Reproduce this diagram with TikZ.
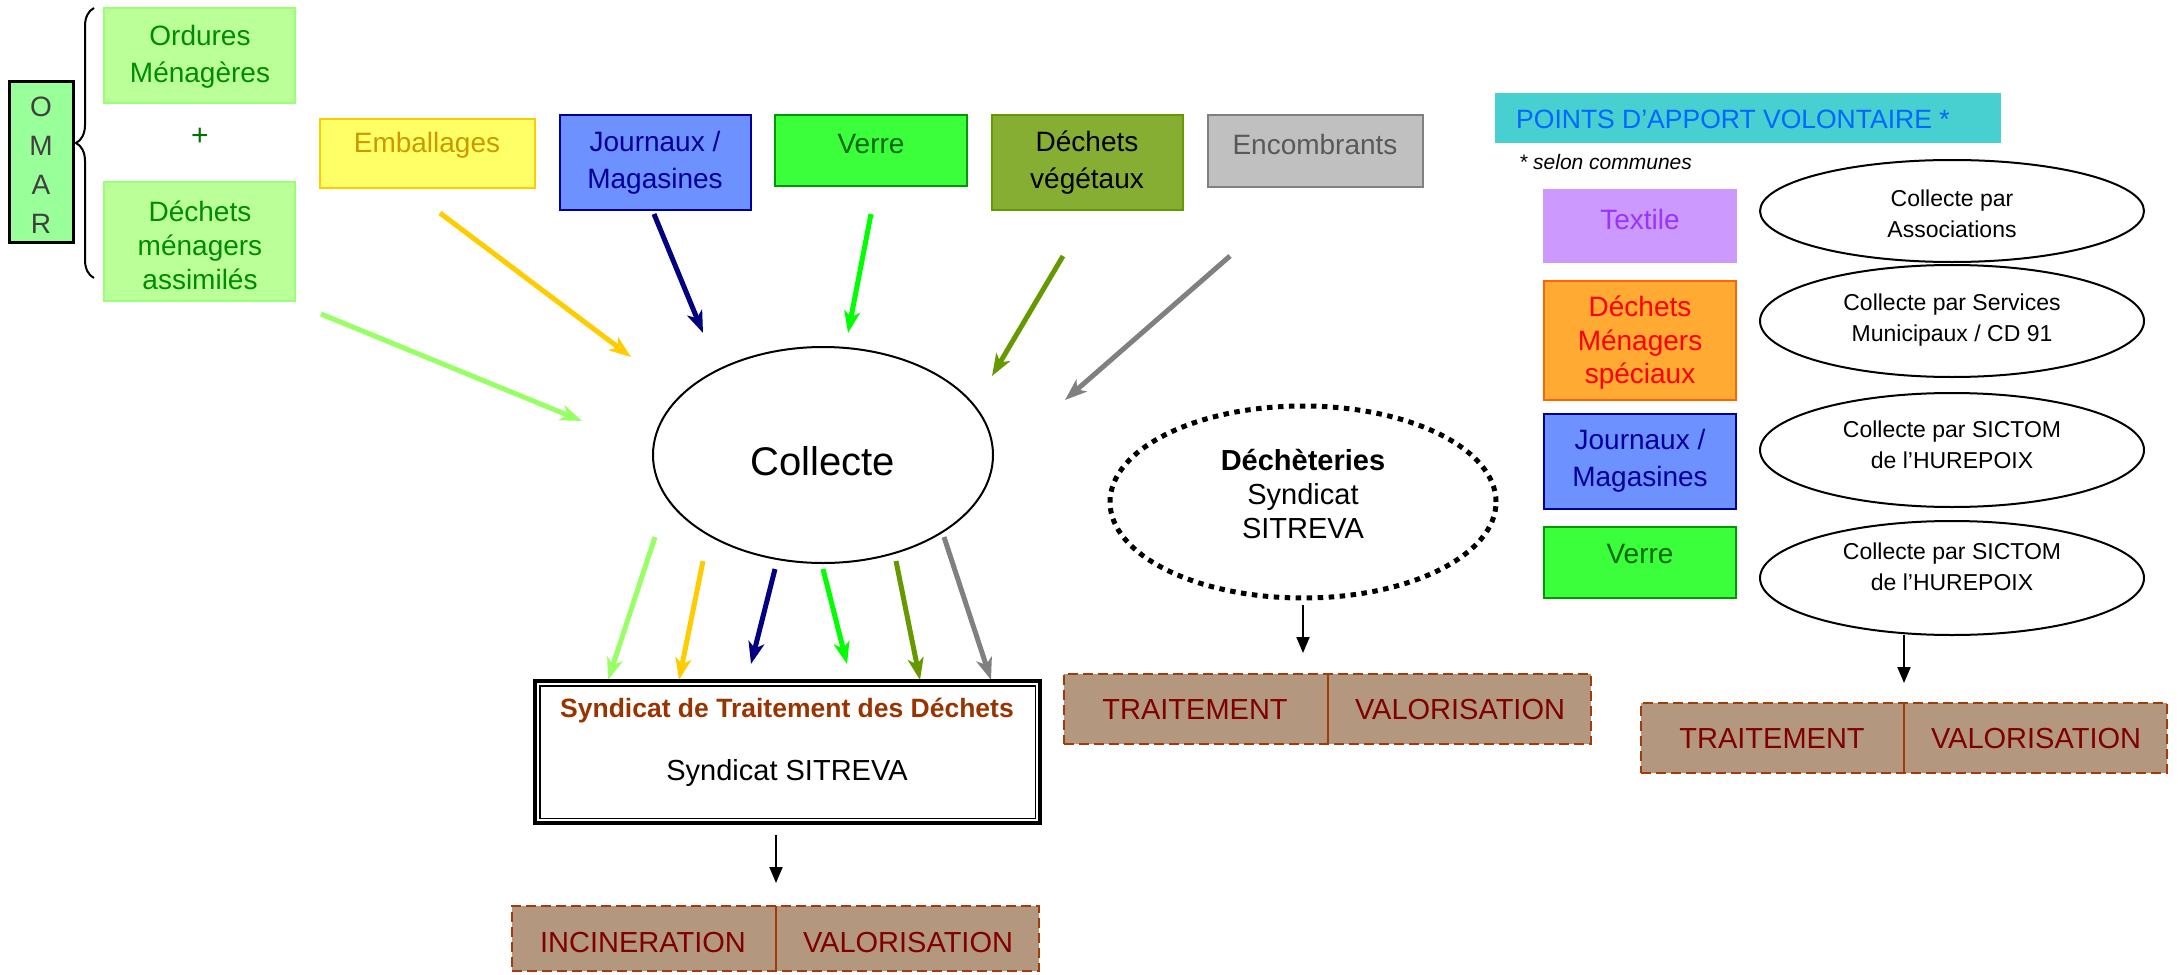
\documentclass[tikz,border=0pt]{standalone}
\usepackage{fontspec}
\setmainfont{Liberation Sans}
\usetikzlibrary{shapes.geometric,arrows.meta,fit,decorations.pathreplacing}
\definecolor{omarfill}{HTML}{99FF99}
\definecolor{ordfill}{HTML}{BBFF99}
\definecolor{orddraw}{HTML}{99FF77}
\definecolor{ordtext}{HTML}{008C00}
\definecolor{embfill}{HTML}{FFFF66}
\definecolor{embdraw}{HTML}{FFCC00}
\definecolor{embtext}{HTML}{CC9900}
\definecolor{jfill}{HTML}{6D91FF}
\definecolor{jdraw}{HTML}{000099}
\definecolor{vfill}{HTML}{3CFF3C}
\definecolor{vdraw}{HTML}{009900}
\definecolor{vtext}{HTML}{006600}
\definecolor{dvfill}{HTML}{86AE33}
\definecolor{dvdraw}{HTML}{669900}
\definecolor{encfill}{HTML}{C0C0C0}
\definecolor{encdraw}{HTML}{808080}
\definecolor{enctext}{HTML}{595959}
\definecolor{pavfill}{HTML}{48CFCF}
\definecolor{pavtext}{HTML}{0066FF}
\definecolor{texfill}{HTML}{CC99FF}
\definecolor{textext}{HTML}{9933FF}
\definecolor{dmsfill}{HTML}{FFAA33}
\definecolor{dmsdraw}{HTML}{FF6600}
\definecolor{trfill}{HTML}{B3987F}
\definecolor{trdraw}{HTML}{A33A0A}
\definecolor{trtext}{HTML}{800000}
\definecolor{syntext}{HTML}{993300}
\definecolor{alg}{HTML}{99FF66}
\definecolor{ayel}{HTML}{FFCC00}
\definecolor{anavy}{HTML}{000080}
\definecolor{agreen}{HTML}{00FF00}
\definecolor{aolive}{HTML}{669900}
\definecolor{agray}{HTML}{808080}
\tikzset{
  boxn/.style={draw, line width=2pt, inner sep=0pt},
  lbl/.style={font=\fontsize{28}{37}\selectfont, align=center, inner sep=0pt},
  small/.style={font=\fontsize{23}{31}\selectfont, align=center, inner sep=0pt},
  fat/.style={line width=5pt, draw=#1, -{Stealth[length=22pt,width=16pt,inset=6pt]}},
  thin/.style={line width=2pt, -{Triangle[length=16pt,width=13pt]}},
  trbox/.style={draw=trdraw, fill=trfill, line width=2pt, dash pattern=on 10pt off 5pt, inner sep=0pt},
  ell/.style={ellipse, draw, line width=2pt, inner sep=0pt}
}
\begin{document}
\begin{tikzpicture}[x=1pt,y=-1pt]
\useasboundingbox (0,0) rectangle (2178,974);
% OMAR
\node[boxn, draw=black, line width=3pt, fill=omarfill, fit={(9,81) (73,242)}] (omar) {};
\node[lbl, font=\fontsize{28}{39}\selectfont, text=black!75] (omarT) at (41,165) {O\\M\\A\\R};
\coordinate (brb) at (94,278);
\coordinate (brt) at (94,8);
\draw[line width=2pt, decorate, decoration={brace, amplitude=18pt}] (brb) -- (brt);
% Ordures / DMA
\node[boxn, draw=orddraw, fill=ordfill, fit={(104,8) (295,103)}] (ord) {};
\node[lbl, text=ordtext] (ordT) at (200,57) {Ordures\\Ménagères};
\node[lbl, text=ordtext!80!black, font=\fontsize{30}{30}\selectfont] (plus) at (200,137) {+};
\node[boxn, draw=orddraw, fill=ordfill, fit={(104,182) (295,301)}] (dma) {};
\node[lbl, text=ordtext, font=\fontsize{28}{34}\selectfont] (dmaT) at (200,245) {Déchets\\ménagers\\assimilés};
% top row
\node[boxn, draw=embdraw, fill=embfill, fit={(320,119) (535,188)}] (emb) {};
\node[lbl, text=embtext] (embT) at (427,145) {Emballages};
\node[boxn, draw=jdraw, fill=jfill, fit={(560,115) (751,210)}] (jou) {};
\node[lbl, text=jdraw] (jouT) at (655,163) {Journaux /\\Magasines};
\node[boxn, draw=vdraw, fill=vfill, fit={(775,115) (967,186)}] (ver) {};
\node[lbl, text=vtext] (verT) at (871,144) {Verre};
\node[boxn, draw=dvdraw, fill=dvfill, fit={(992,115) (1183,210)}] (veg) {};
\node[lbl, text=black] (vegT) at (1087,163) {Déchets\\végétaux};
\node[boxn, draw=encdraw, fill=encfill, fit={(1208,115) (1423,187)}] (enc) {};
\node[lbl, text=enctext] (encT) at (1315,144) {Encombrants};
% Collecte
\node[ell, minimum width=340pt, minimum height=216pt] (col) at (823,455) {};
\node[lbl, font=\fontsize{40}{40}\selectfont] (colT) at (823,461) {Collecte};
% arrows in
\coordinate (a1s) at (321,314); \coordinate (a1e) at (582,421);
\coordinate (a2s) at (440,213); \coordinate (a2e) at (631,357);
\coordinate (a3s) at (654,214); \coordinate (a3e) at (703,333);
\coordinate (a4s) at (871,214); \coordinate (a4e) at (848,333);
\coordinate (a5s) at (1063,256); \coordinate (a5e) at (992,376);
\coordinate (a6s) at (1230,256); \coordinate (a6e) at (1065,400);
\draw[fat=alg] (a1s) -- (a1e);
\draw[fat=ayel] (a2s) -- (a2e);
\draw[fat=anavy] (a3s) -- (a3e);
\draw[fat=agreen] (a4s) -- (a4e);
\draw[fat=aolive] (a5s) -- (a5e);
\draw[fat=agray] (a6s) -- (a6e);
% arrows out
\coordinate (b1s) at (655,537); \coordinate (b1e) at (608,680);
\coordinate (b2s) at (703,561); \coordinate (b2e) at (679,680);
\coordinate (b3s) at (775,569); \coordinate (b3e) at (751,664);
\coordinate (b4s) at (823,569); \coordinate (b4e) at (847,664);
\coordinate (b5s) at (896,561); \coordinate (b5e) at (920,680);
\coordinate (b6s) at (944,537); \coordinate (b6e) at (991,680);
\draw[fat=alg] (b1s) -- (b1e);
\draw[fat=ayel] (b2s) -- (b2e);
\draw[fat=anavy] (b3s) -- (b3e);
\draw[fat=agreen] (b4s) -- (b4e);
\draw[fat=aolive] (b5s) -- (b5e);
\draw[fat=agray] (b6s) -- (b6e);
% Syndicat
\node[draw, line width=3.5pt, inner sep=0pt, fit={(535,681) (1040,823)}] (syn) {};
\draw[line width=1.5pt] ([shift={(6.5,6.5)}]syn.north west) rectangle ([shift={(-6.5,-6.5)}]syn.south east);
\node[lbl, font=\bfseries\fontsize{26.5}{30}\selectfont, text=syntext] (synT1) at (787,711) {Syndicat de Traitement des Déchets};
\node[lbl, font=\fontsize{29}{30}\selectfont] (synT2) at (787,773) {Syndicat SITREVA};
\coordinate (c1) at (776,835); \coordinate (c2) at (776,883);
\draw[thin] (c1) -- (c2);
% incineration
\node[trbox, fit={(512,906) (1039,971)}] (inc) {};
\coordinate (incd1) at (776,906); \coordinate (incd2) at (776,971);
\draw[trdraw, line width=1.5pt] (incd1) -- (incd2);
\node[lbl, text=trtext, font=\fontsize{29}{30}\selectfont] (incT) at (643,943) {INCINERATION};
\node[lbl, text=trtext, font=\fontsize{29}{30}\selectfont] (valT1) at (908,943) {VALORISATION};
% Decheteries
\node[ellipse, draw, line width=5pt, dash pattern=on 5.5pt off 5.5pt, minimum width=386pt, minimum height=192pt, inner sep=0pt] (dech) at (1303,502) {};
\node[lbl, font=\fontsize{29}{34}\selectfont] (dechT) at (1303,494) {\textbf{Déchèteries}\\Syndicat\\SITREVA};
\coordinate (d1) at (1303,605); \coordinate (d2) at (1303,653);
\draw[thin] (d1) -- (d2);
\node[trbox, fit={(1064,674) (1591,744)}] (tr1) {};
\coordinate (tr1d1) at (1328,674); \coordinate (tr1d2) at (1328,744);
\draw[trdraw, line width=1.5pt] (tr1d1) -- (tr1d2);
\node[lbl, text=trtext, font=\fontsize{29}{30}\selectfont] (tr1T) at (1195,710) {TRAITEMENT};
\node[lbl, text=trtext, font=\fontsize{29}{30}\selectfont] (va1T) at (1460,710) {VALORISATION};
% PAV
\node[fill=pavfill, inner sep=0pt, fit={(1495,93) (2001,143)}] (pav) {};
\node[lbl, anchor=west, text=pavtext, font=\fontsize{26.5}{30}\selectfont] (pavT) at (1516,119) {POINTS D’APPORT VOLONTAIRE *};
\node[lbl, anchor=west, font=\itshape\fontsize{21}{24}\selectfont] (selT) at (1519,162) {* selon communes};
\node[fill=texfill, inner sep=0pt, fit={(1543,189) (1737,263)}] (tex) {};
\node[lbl, text=textext] (texT) at (1640,219) {Textile};
\node[boxn, draw=dmsdraw, fill=dmsfill, fit={(1544,281) (1736,400)}] (dms) {};
\node[lbl, text=red, font=\fontsize{28}{33.5}\selectfont] (dmsT) at (1640,343) {Déchets\\Ménagers\\spéciaux};
\node[boxn, draw=jdraw, fill=jfill, fit={(1544,414) (1736,509)}] (jou2) {};
\node[lbl, text=jdraw] (jou2T) at (1640,461) {Journaux /\\Magasines};
\node[boxn, draw=vdraw, fill=vfill, fit={(1544,527) (1736,598)}] (ver2) {};
\node[lbl, text=vtext] (ver2T) at (1640,554) {Verre};
\node[ell, minimum width=384pt, minimum height=102pt] (e1) at (1952,211) {};
\node[small] (e1T) at (1952,214) {Collecte par\\Associations};
\node[ell, minimum width=384pt, minimum height=112pt] (e2) at (1952,321) {};
\node[small] (e2T) at (1952,320) {Collecte par Services\\Municipaux / CD 91};
\node[ell, minimum width=384pt, minimum height=114pt] (e3) at (1952,450) {};
\node[small] (e3T) at (1952,445) {Collecte par SICTOM\\de l’HUREPOIX};
\node[ell, minimum width=384pt, minimum height=114pt] (e4) at (1952,578) {};
\node[small] (e4T) at (1952,567) {Collecte par SICTOM\\de l’HUREPOIX};
\coordinate (f1) at (1904,635); \coordinate (f2) at (1904,683);
\draw[thin] (f1) -- (f2);
\node[trbox, fit={(1641,703) (2167,773)}] (tr2) {};
\coordinate (tr2d1) at (1904,703); \coordinate (tr2d2) at (1904,773);
\draw[trdraw, line width=1.5pt] (tr2d1) -- (tr2d2);
\node[lbl, text=trtext, font=\fontsize{29}{30}\selectfont] (tr2T) at (1772,739) {TRAITEMENT};
\node[lbl, text=trtext, font=\fontsize{29}{30}\selectfont] (va2T) at (2036,739) {VALORISATION};
\end{tikzpicture}
\end{document}
